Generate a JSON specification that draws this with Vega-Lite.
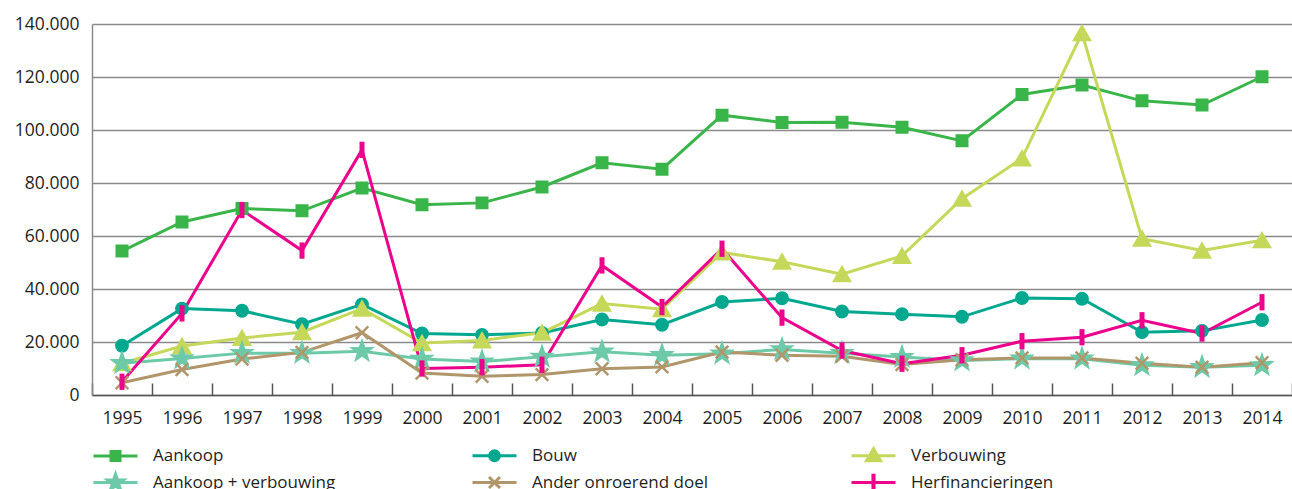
{
  "$schema": "https://vega.github.io/schema/vega-lite/v6.json",
  "width": 1200,
  "height": 371,
  "autosize": {"type": "none"},
  "padding": {"left": 92, "top": 24, "right": 0, "bottom": 94},
  "background": "white",
  "config": {
    "font": "Open Sans",
    "view": {"stroke": null},
    "axis": {"labelFont": "Open Sans", "labelFontSize": 17.5, "labelColor": "#231f20", "title": null}
  },
  "data": {
    "values": [
      {"year": "1995", "Aankoop": 54300, "Bouw": 18600, "Verbouwing": 12000, "Aankoop + verbouwing": 12000, "Ander onroerend doel": 4600, "Herfinancieringen": 5000},
      {"year": "1996", "Aankoop": 65300, "Bouw": 32600, "Verbouwing": 18500, "Aankoop + verbouwing": 13800, "Ander onroerend doel": 9600, "Herfinancieringen": 30800},
      {"year": "1997", "Aankoop": 70400, "Bouw": 31800, "Verbouwing": 21500, "Aankoop + verbouwing": 15800, "Ander onroerend doel": 13600, "Herfinancieringen": 69800},
      {"year": "1998", "Aankoop": 69500, "Bouw": 26700, "Verbouwing": 23700, "Aankoop + verbouwing": 15800, "Ander onroerend doel": 16100, "Herfinancieringen": 54500},
      {"year": "1999", "Aankoop": 78100, "Bouw": 34200, "Verbouwing": 32600, "Aankoop + verbouwing": 16500, "Ander onroerend doel": 23500, "Herfinancieringen": 92500},
      {"year": "2000", "Aankoop": 71800, "Bouw": 23200, "Verbouwing": 19600, "Aankoop + verbouwing": 13600, "Ander onroerend doel": 8300, "Herfinancieringen": 10000},
      {"year": "2001", "Aankoop": 72500, "Bouw": 22700, "Verbouwing": 20600, "Aankoop + verbouwing": 12600, "Ander onroerend doel": 7100, "Herfinancieringen": 10500},
      {"year": "2002", "Aankoop": 78500, "Bouw": 23400, "Verbouwing": 23500, "Aankoop + verbouwing": 14400, "Ander onroerend doel": 7700, "Herfinancieringen": 11400},
      {"year": "2003", "Aankoop": 87600, "Bouw": 28500, "Verbouwing": 34500, "Aankoop + verbouwing": 16300, "Ander onroerend doel": 9900, "Herfinancieringen": 48900},
      {"year": "2004", "Aankoop": 85200, "Bouw": 26500, "Verbouwing": 32400, "Aankoop + verbouwing": 15000, "Ander onroerend doel": 10600, "Herfinancieringen": 33200},
      {"year": "2005", "Aankoop": 105600, "Bouw": 35100, "Verbouwing": 53800, "Aankoop + verbouwing": 15600, "Ander onroerend doel": 16200, "Herfinancieringen": 55200},
      {"year": "2006", "Aankoop": 102800, "Bouw": 36500, "Verbouwing": 50300, "Aankoop + verbouwing": 17200, "Ander onroerend doel": 15000, "Herfinancieringen": 29200},
      {"year": "2007", "Aankoop": 102900, "Bouw": 31500, "Verbouwing": 45600, "Aankoop + verbouwing": 15800, "Ander onroerend doel": 14600, "Herfinancieringen": 16800},
      {"year": "2008", "Aankoop": 101000, "Bouw": 30500, "Verbouwing": 52500, "Aankoop + verbouwing": 14300, "Ander onroerend doel": 11500, "Herfinancieringen": 11800},
      {"year": "2009", "Aankoop": 95900, "Bouw": 29500, "Verbouwing": 74100, "Aankoop + verbouwing": 13000, "Ander onroerend doel": 13300, "Herfinancieringen": 15000},
      {"year": "2010", "Aankoop": 113400, "Bouw": 36600, "Verbouwing": 89300, "Aankoop + verbouwing": 13700, "Ander onroerend doel": 14000, "Herfinancieringen": 20300},
      {"year": "2011", "Aankoop": 117000, "Bouw": 36300, "Verbouwing": 136500, "Aankoop + verbouwing": 13700, "Ander onroerend doel": 14000, "Herfinancieringen": 21800},
      {"year": "2012", "Aankoop": 111000, "Bouw": 23700, "Verbouwing": 59000, "Aankoop + verbouwing": 11200, "Ander onroerend doel": 12000, "Herfinancieringen": 28200},
      {"year": "2013", "Aankoop": 109400, "Bouw": 24200, "Verbouwing": 54500, "Aankoop + verbouwing": 10500, "Ander onroerend doel": 10500, "Herfinancieringen": 23200},
      {"year": "2014", "Aankoop": 120100, "Bouw": 28300, "Verbouwing": 58400, "Aankoop + verbouwing": 11200, "Ander onroerend doel": 12200, "Herfinancieringen": 35000}
    ]
  },
  "transform": [
    {"fold": ["Aankoop", "Bouw", "Verbouwing", "Aankoop + verbouwing", "Ander onroerend doel", "Herfinancieringen"], "as": ["series", "value"]}
  ],
  "encoding": {
    "x": {
      "field": "year", "type": "ordinal",
      "scale": {"paddingInner": 0, "paddingOuter": 0},
      "axis": {
        "labelAngle": 0, "tickBand": "extent", "tickSize": -12, "tickColor": "#555555", "tickWidth": 1.5,
        "domainColor": "#555555", "domainWidth": 1.5, "labelPadding": 26, "grid": false
      }
    },
    "y": {
      "field": "value", "type": "quantitative",
      "scale": {"domain": [0, 140000], "nice": false},
      "axis": {
        "values": [0, 20000, 40000, 60000, 80000, 100000, 120000, 140000],
        "labelExpr": "replace(format(datum.value, ','), ',', '.')",
        "grid": true, "gridColor": "#8a8a8a", "gridWidth": 1.5,
        "domain": true, "domainColor": "#8a8a8a", "domainWidth": 1.5,
        "ticks": false, "labelPadding": 13
      }
    }
  },
  "layer": [
    {
      "mark": {"type": "line", "strokeWidth": 3},
      "encoding": {
        "color": {
          "field": "series", "type": "nominal",
          "scale": {
            "domain": ["Aankoop", "Bouw", "Verbouwing", "Aankoop + verbouwing", "Ander onroerend doel", "Herfinancieringen"],
            "range": ["#39b54a", "#00a88f", "#c5d85a", "#6dcaa9", "#b0966a", "#ec008c"]
          },
          "legend": {
            "title": null, "orient": "bottom", "direction": "horizontal", "columns": 3, "gridAlign": "all",
            "columnPadding": 130, "rowPadding": 0, "offset": 15, "labelLimit": 400,
            "labelFont": "Open Sans", "labelFontSize": 17, "labelColor": "#231f20", "labelOffset": 36,
            "symbolType": "stroke", "symbolSize": 484, "symbolStrokeWidth": 3, "symbolOpacity": 1,
            "encode": {
              "symbols": {
                "update": {
                  "shape": {"signal": "datum.value === 'Aankoop' ? 'M-1,0H3M0.59,-0.41H1.41V0.41H0.59Z' : datum.value === 'Bouw' ? 'M-1,0H3M0.55,0A0.45,0.45 0 1,0 1.45,0A0.45,0.45 0 1,0 0.55,0Z' : datum.value === 'Verbouwing' ? 'M-1,0H3M1,-0.65L1.64,0.45H0.36Z' : datum.value === 'Aankoop + verbouwing' ? 'M-1,0H3M1,-0.77L1.182,-0.251L1.732,-0.238L1.295,0.096L1.453,0.623L1,0.31L0.547,0.623L0.705,0.096L0.268,-0.238L0.818,-0.251Z' : datum.value === 'Ander onroerend doel' ? 'M-1,0H3M0.5,-0.5L1.5,0.5M0.5,0.5L1.5,-0.5' : 'M-1,0H3M0.95,-0.65H1.05V0.65H0.95Z'"},
                  "fill": {"scale": "color", "field": "value"},
                  "stroke": {"scale": "color", "field": "value"},
                  "strokeWidth": {"value": 3},
                  "opacity": {"value": 1}
                }
              }
            }
          }
        }
      }
    },
    {
      "transform": [{"filter": {"field": "series", "equal": "Aankoop"}}],
      "mark": {"type": "point", "shape": "square", "size": 110, "filled": true, "opacity": 1, "color": "#39b54a", "stroke": "#39b54a", "strokeWidth": 2.5}
    },
    {
      "transform": [{"filter": {"field": "series", "equal": "Bouw"}}],
      "mark": {"type": "point", "shape": "circle", "size": 130, "filled": true, "opacity": 1, "color": "#00a88f", "stroke": "#00a88f", "strokeWidth": 2.5}
    },
    {
      "transform": [{"filter": {"field": "series", "equal": "Verbouwing"}}],
      "mark": {"type": "point", "shape": "triangle-up", "size": 250, "filled": true, "opacity": 1, "color": "#c5d85a", "stroke": "#c5d85a", "strokeWidth": 2.5}
    },
    {
      "transform": [{"filter": {"field": "series", "equal": "Aankoop + verbouwing"}}],
      "mark": {"type": "point", "shape": "M0,-1L0.235,-0.324L0.951,-0.309L0.38,0.124L0.588,0.809L0,0.4L-0.588,0.809L-0.38,0.124L-0.951,-0.309L-0.235,-0.324Z", "size": 380, "filled": true, "opacity": 1, "color": "#6dcaa9", "stroke": "#6dcaa9", "strokeWidth": 2.5}
    },
    {
      "transform": [{"filter": {"field": "series", "equal": "Ander onroerend doel"}}],
      "mark": {"type": "point", "shape": "M-1,-1L1,1M-1,1L1,-1", "size": 160, "filled": true, "opacity": 1, "color": "#b0966a", "stroke": "#b0966a", "strokeWidth": 2.5}
    },
    {
      "transform": [{"filter": {"field": "series", "equal": "Herfinancieringen"}}],
      "mark": {"type": "point", "shape": "M-0.18,-1H0.18V1H-0.18Z", "size": 190, "filled": true, "opacity": 1, "color": "#ec008c", "stroke": "#ec008c", "strokeWidth": 2.5}
    }
  ]
}
